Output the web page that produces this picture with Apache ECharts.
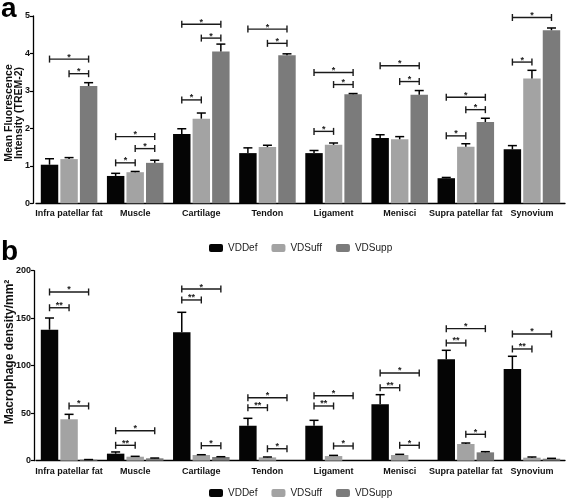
<!DOCTYPE html>
<html><head><meta charset="utf-8">
<script src="https://cdn.jsdelivr.net/npm/echarts@6/dist/echarts.min.js"></script>
<style>html,body{margin:0;padding:0;background:#fff}#c{width:567px;height:501px}</style>
</head><body><div id="c"></div>
<script>
const categories = ['Infra patellar fat','Muscle','Cartilage','Tendon','Ligament','Menisci','Supra patellar fat','Synovium'];
const seriesNames = ['VDDef','VDSuff','VDSupp'];

// Panel a: Mean Fluorescence Intensity (TREM-2)
const fluorDef     = [1.03, 0.73, 1.85, 1.34, 1.34, 1.74, 0.67, 1.44];
const fluorDefErr  = [0.16, 0.07, 0.14, 0.14, 0.07, 0.09, 0.02, 0.10];
const fluorSuff    = [1.18, 0.83, 2.26, 1.50, 1.56, 1.71, 1.51, 3.33];
const fluorSuffErr = [0.04, 0.02, 0.15, 0.05, 0.05, 0.07, 0.08, 0.22];
const fluorSupp    = [3.13, 1.08, 4.05, 3.95, 2.91, 2.90, 2.17, 4.62];
const fluorSuppErr = [0.09, 0.07, 0.20, 0.04, 0.02, 0.11, 0.10, 0.06];

// Panel b: Macrophage density/mm2
const macroDef     = [137.9, 7.4, 135.2, 36.8, 36.8, 59.3, 106.7, 96.5];
const macroDefErr  = [12.3, 1.8, 21.0, 7.8, 5.7, 10.2, 9.5, 13.4];
const macroSuff    = [43.6, 4.2, 6.0, 3.5, 4.9, 6.0, 17.6, 3.2];
const macroSuffErr = [5.2, 0.4, 0.3, 0.4, 0.7, 0.7, 1.0, 0.7];
const macroSupp    = [1.0, 2.5, 3.9, 0, 0, 0, 8.8, 2.1];
const macroSuppErr = [0.2, 0.3, 0.3, 0, 0, 0, 0.7, 0.4];

// Axis ticks
const ticksA = [0, 1, 2, 3, 4, 5];
const ticksB = [0, 50, 100, 150, 200];

// Significance brackets: [category, fromGroup, toGroup, level, label]
const sigA = [
  [0,0,2,3.85,'*'],[0,1,2,3.46,'*'],
  [1,0,2,1.78,'*'],[1,1,2,1.46,'*'],[1,0,1,1.08,'*'],
  [2,0,2,4.78,'*'],[2,1,2,4.41,'*'],[2,0,1,2.76,'*'],
  [3,0,2,4.65,'*'],[3,1,2,4.27,'*'],
  [4,0,2,3.49,'*'],[4,1,2,3.17,'*'],[4,0,1,1.92,'*'],
  [5,0,2,3.67,'*'],[5,1,2,3.25,'*'],
  [6,0,2,2.83,'*'],[6,1,2,2.50,'*'],[6,0,1,1.80,'*'],
  [7,0,2,4.96,'*'],[7,0,1,3.77,'*']
];
const sigB = [
  [0,0,2,177.6,'*'],[0,0,1,161,'**'],[0,1,2,57.6,'*'],
  [1,0,2,31.6,'*'],[1,0,1,16.2,'**'],
  [2,0,2,180.7,'*'],[2,0,1,169.2,'**'],[2,1,2,15.8,'*'],
  [3,0,2,66.3,'*'],[3,0,1,55.8,'**'],[3,1,2,12.6,'*'],
  [4,0,2,68.4,'*'],[4,0,1,57.6,'**'],[4,1,2,15.5,'*'],
  [5,0,2,92.3,'*'],[5,0,1,76.8,'**'],[5,1,2,16.2,'*'],
  [6,0,2,139,'*'],[6,0,1,123.9,'**'],[6,1,2,27.8,'*'],
  [7,0,2,133.4,'*'],[7,0,1,117.6,'**']
];

const FONT = "'Liberation Sans', Arial, sans-serif";
const colors = ['#050505', '#a3a3a3', '#7b7b7b'];
const CAT_GAP = 0.145, BAR_GAP = 0.12;

function barOffset(api, idx) {
  const band = api.size([1, 0])[0];
  const w = band * (1 - CAT_GAP) / (3 + 2 * BAR_GAP);
  return (idx - 1) * w * (1 + BAR_GAP);
}

function errRender(idx) {
  return function (params, api) {
    const cat = api.value(0), v = api.value(1), e = api.value(2);
    if (!e) return null;
    const off = barOffset(api, idx);
    const p0 = api.coord([cat, v]);
    const p1 = api.coord([cat, v + e]);
    const x = p0[0] + off, hw = 4.5;
    return {
      type: 'group', children: [
        {type: 'line', shape: {x1: x, y1: p0[1], x2: x, y2: p1[1]}, style: {stroke: '#000', lineWidth: 1.5}},
        {type: 'line', shape: {x1: x - hw, y1: p1[1], x2: x + hw, y2: p1[1]}, style: {stroke: '#000', lineWidth: 1.5}}
      ]
    };
  };
}

function sigRender(list) {
  return function (params, api) {
    const item = list[params.dataIndex];
    const cat = api.value(0), level = api.value(3);
    const c = api.coord([cat, level]);
    const x1 = c[0] + barOffset(api, item[1]);
    const x2 = c[0] + barOffset(api, item[2]);
    const y = c[1], h = 3.5;
    const st = {stroke: '#1a1a1a', lineWidth: 1.4};
    return {
      type: 'group', children: [
        {type: 'line', shape: {x1: x1, y1: y, x2: x2, y2: y}, style: st},
        {type: 'line', shape: {x1: x1, y1: y - h, x2: x1, y2: y + h}, style: st},
        {type: 'line', shape: {x1: x2, y1: y - h, x2: x2, y2: y + h}, style: st},
        {type: 'text', style: {text: item[4], x: (x1 + x2) / 2, y: y - 2, align: 'center', verticalAlign: 'middle',
          font: 'bold 9px ' + FONT, fill: '#1a1a1a'}}
      ]
    };
  };
}

const groupsA = [[fluorDef, fluorDefErr], [fluorSuff, fluorSuffErr], [fluorSupp, fluorSuppErr]];
const groupsB = [[macroDef, macroDefErr], [macroSuff, macroSuffErr], [macroSupp, macroSuppErr]];

const series = [];
[groupsA, groupsB].forEach(function (groups, panel) {
  groups.forEach(function (g, i) {
    series.push({
      type: 'bar', name: seriesNames[i], xAxisIndex: panel, yAxisIndex: panel,
      data: g[0], barCategoryGap: (CAT_GAP * 100) + '%', barGap: (BAR_GAP * 100) + '%',
      itemStyle: {color: colors[i]}, emphasis: {disabled: true}, z: 2
    });
  });
  groups.forEach(function (g, i) {
    series.push({
      type: 'custom', name: 'err' + panel + i, xAxisIndex: panel, yAxisIndex: panel,
      renderItem: errRender(i), encode: {x: 0, y: 1}, z: 3,
      data: categories.map(function (c, k) { return [k, g[0][k], g[1][k]]; })
    });
  });
  const sig = panel === 0 ? sigA : sigB;
  series.push({
    type: 'custom', name: 'sig' + panel, xAxisIndex: panel, yAxisIndex: panel,
    renderItem: sigRender(sig), encode: {x: 0, y: 3}, z: 4,
    data: sig.map(function (s) { return [s[0], s[1], s[2], s[3]]; })
  });
});

function xAxisCfg(grid) {
  return {
    type: 'category', gridIndex: grid, data: categories,
    axisLine: {lineStyle: {color: '#000', width: 1.3}},
    axisTick: {alignWithLabel: true, length: 3, lineStyle: {color: '#000', width: 1.2}},
    axisLabel: {color: '#111', fontFamily: FONT, fontWeight: 'bold', fontSize: 9, margin: 6, interval: 0}
  };
}
function yAxisCfg(grid, ticks, offset) {
  return {
    type: 'value', gridIndex: grid, min: ticks[0], max: ticks[ticks.length - 1],
    interval: ticks[1] - ticks[0], offset: offset,
    splitLine: {show: false},
    axisLine: {show: true, lineStyle: {color: '#000', width: 1.3}},
    axisTick: {show: true, length: 3, lineStyle: {color: '#000', width: 1.2}},
    axisLabel: {color: '#111', fontFamily: FONT, fontWeight: 'bold', fontSize: 9, margin: 3}
  };
}

const legendCommon = {
  data: seriesNames, left: 209, padding: 0, icon: 'roundRect', itemWidth: 14, itemHeight: 8, itemGap: 14,
  textStyle: {fontFamily: FONT, fontSize: 10, color: '#222'},
  selectedMode: false
};

const chart = echarts.init(document.getElementById('c'));
chart.setOption({
  animation: false,
  backgroundColor: '#fff',
  grid: [
    {left: 36, right: 2, top: 16, height: 187.3},
    {left: 36, right: 2, top: 270.7, height: 190}
  ],
  xAxis: [xAxisCfg(0), xAxisCfg(1)],
  yAxis: [yAxisCfg(0, ticksA, 3), yAxisCfg(1, ticksB, 2)],
  legend: [
    Object.assign({top: 243}, legendCommon),
    Object.assign({top: 488}, legendCommon)
  ],
  graphic: [
    {type: 'text', left: 1, top: -5, style: {text: 'a', font: 'bold 28px ' + FONT, fill: '#000'}},
    {type: 'text', left: 1, top: 238, style: {text: 'b', font: 'bold 28px ' + FONT, fill: '#000'}},
    {type: 'text', x: 14, y: 113, rotation: Math.PI / 2,
      style: {text: 'Mean Fluorescence\nIntensity (TREM-2)', align: 'center', verticalAlign: 'middle',
        font: 'bold 10.5px ' + FONT, fill: '#111', lineHeight: 10.5}},
    {type: 'text', x: 10, y: 352, rotation: Math.PI / 2,
      style: {text: 'Macrophage density/mm²', align: 'center', verticalAlign: 'middle',
        font: 'bold 12px ' + FONT, fill: '#111'}}
  ],
  series: series
});
</script>
</body></html>
